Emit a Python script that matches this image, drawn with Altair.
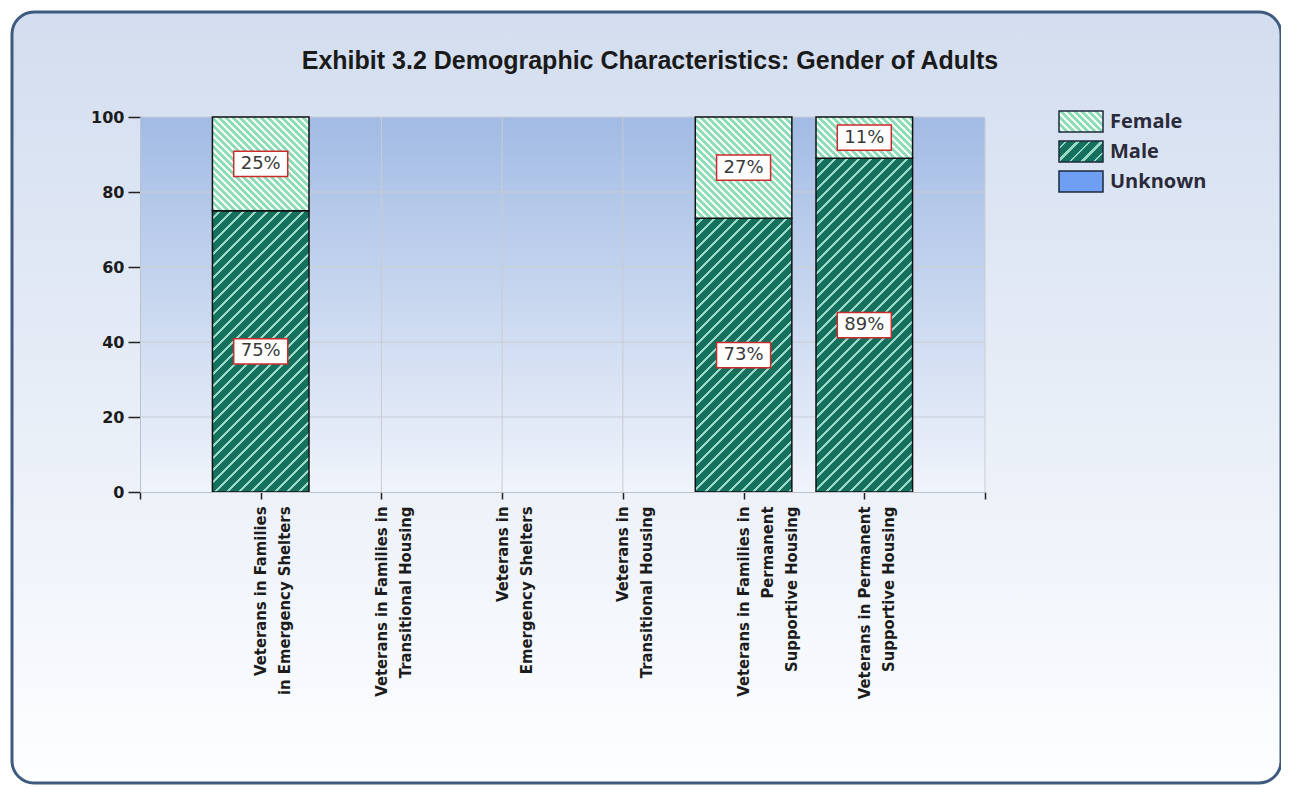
import json
import altair as alt
import pandas as pd

# ---------------- data ----------------
categories = [
    ["Veterans in Families", "in Emergency Shelters"],
    ["Veterans in Families in", "Transitional Housing"],
    ["Veterans in", "Emergency Shelters"],
    ["Veterans in", "Transitional Housing"],
    ["Veterans in Families in", "Permanent", "Supportive Housing"],
    ["Veterans in Permanent", "Supportive Housing"],
]
female = [25, 0, 0, 0, 27, 11]
male = [75, 0, 0, 0, 73, 89]
unknown = [0, 0, 0, 0, 0, 0]
series_names = ["Female", "Male", "Unknown"]
y_ticks = [0, 20, 40, 60, 80, 100]
x_ticks = [0, 1, 2, 3, 4, 5, 6, 7]
title_text = "Exhibit 3.2 Demographic Characteristics: Gender of Adults"

# ---------------- styling ----------------
W, H = 845, 375
XMAX = 7
HALF = 0.4
PXX = W / XMAX
PXY = H / 100.0
LABEL_FONT = "DejaVu Sans Condensed, Liberation Sans Narrow, DejaVu Sans"
MALE_BASE, MALE_LINE = "#15715d", "#9ad8c8"
FEM_BASE, FEM_LINE = "#8fdcb9", "#f4fffa"


def hatch(w, h, base, line, period, lw, direction):
    S = w + h
    a = S / (w * w + h * h)
    if direction == "/":
        x1, y1, x2, y2 = 0, 0, a * w, a * h
    else:
        x1, y1, x2, y2 = 0, 1, a * w, 1 - a * h
    stops = [alt.GradientStop(offset=0, color=base)]
    s = period / 2.0
    while s < S:
        s0 = s / S
        s1 = min(s + lw, S) / S
        for off, col in ((s0, base), (s0, line), (s1, line), (s1, base)):
            stops.append(alt.GradientStop(offset=round(off, 5), color=col))
        s += period
    stops.append(alt.GradientStop(offset=1, color=base))
    return alt.LinearGradient(gradient="linear", stops=stops,
                              x1=round(x1, 5), y1=round(y1, 5),
                              x2=round(x2, 5), y2=round(y2, 5))


def seg_grad(series, w, h):
    if series == "Male":
        return hatch(w, h, MALE_BASE, MALE_LINE, 12, 3, "/")
    if series == "Female":
        return hatch(w, h, FEM_BASE, FEM_LINE, 7, 3, "\\")
    return "#6f9ff2"


# ---------------- table ----------------
rows = []
for i in range(len(categories)):
    m, f, u = male[i], female[i], unknown[i]
    rows.append(dict(pos=i + 1, series="Male", value=m, start=0, end=m))
    rows.append(dict(pos=i + 1, series="Female", value=f, start=m, end=m + f))
    rows.append(dict(pos=i + 1, series="Unknown", value=u, start=m + f, end=m + f + u))
df = pd.DataFrame(rows)

label_arr = [""] + categories + [""]
label_expr = json.dumps(label_arr) + "[datum.value]"

x_scale = alt.Scale(domain=[0, XMAX], nice=False, zero=False)
y_scale = alt.Scale(domain=[0, 100], nice=False)

x_axis = alt.Axis(values=x_ticks, grid=False, title="", domainColor="#bcc2cc",
                  domainWidth=1, tickColor="#222222", tickWidth=1.5, tickSize=7,
                  labelExpr=label_expr, labelAngle=270, labelAlign="right",
                  labelBaseline="middle", labelLineHeight=24, labelPadding=7,
                  labelLimit=400, labelOverlap=False, labelFont=LABEL_FONT,
                  labelFontSize=16.5, labelFontWeight="bold", labelColor="#1c1c1c",
                  zindex=1)
y_axis = alt.Axis(values=y_ticks, grid=False, title="", domainColor="#bcc2cc",
                  domainWidth=1, tickColor="#222222", tickWidth=1.5, tickSize=12,
                  labelPadding=4, labelFont="DejaVu Sans", labelFontSize=16,
                  labelFontWeight="bold", labelColor="#1c1c1c", zindex=1)

one = pd.DataFrame({"a": [0]})

# card background
card = alt.Chart(one).mark_rect(
    fill=alt.LinearGradient(gradient="linear", x1=0, y1=0, x2=0, y2=1,
                            stops=[alt.GradientStop(offset=0, color="#d2ddef"),
                                   alt.GradientStop(offset=1, color="#fdfeff")]),
    stroke="#3e5a7f", strokeWidth=3, cornerRadius=22,
).encode(x=alt.value(-128), x2=alt.value(1141), y=alt.value(-105), y2=alt.value(666))

# plot area background
plotbg = alt.Chart(one).mark_rect(
    fill=alt.LinearGradient(gradient="linear", x1=0, y1=0, x2=0, y2=1,
                            stops=[alt.GradientStop(offset=0, color="#a2bbe4"),
                                   alt.GradientStop(offset=1, color="#f0f4fb")]),
).encode(x=alt.X(datum=0, scale=x_scale, axis=x_axis), x2=alt.X2(datum=XMAX),
         y=alt.Y(datum=0, scale=y_scale, axis=y_axis), y2=alt.Y2(datum=100))

grid_h = alt.Chart(pd.DataFrame({"g": y_ticks[1:]})).mark_rule(
    color="#c9ccd2", strokeWidth=1).encode(y=alt.Y("g:Q", scale=y_scale, axis=y_axis))
grid_v = alt.Chart(pd.DataFrame({"g": x_ticks[1:]})).mark_rule(
    color="#c9ccd2", strokeWidth=1).encode(x=alt.X("g:Q", scale=x_scale, axis=x_axis))

layers = [card, plotbg, grid_h, grid_v]

for r in rows:
    if r["value"] <= 0:
        continue
    w = 2 * HALF * PXX
    h = r["value"] * PXY
    seg = alt.Chart(df).transform_filter(
        (alt.datum.pos == r["pos"]) & (alt.datum.series == r["series"])
    ).transform_calculate(
        x0="datum.pos - %s" % HALF, x1="datum.pos + %s" % HALF
    ).mark_rect(fill=seg_grad(r["series"], w, h), stroke="#111111", strokeWidth=1.5).encode(
        x=alt.X("x0:Q", scale=x_scale, axis=x_axis), x2="x1:Q",
        y=alt.Y("start:Q", scale=y_scale, axis=y_axis), y2="end:Q")
    layers.append(seg)

lab_base = alt.Chart(df).transform_filter(
    (alt.datum.value > 0) & (alt.datum.series != "Unknown")
).transform_calculate(mid="(datum.start + datum.end) / 2", txt="datum.value + '%'")

boxes = lab_base.mark_point(
    shape="M-1,-0.47L1,-0.47L1,0.47L-1,0.47Z", size=54 * 54, filled=True,
    fill="white", stroke="#cc2b2b", strokeWidth=1.5, opacity=1,
).encode(x=alt.X("pos:Q", scale=x_scale, axis=x_axis),
         y=alt.Y("mid:Q", scale=y_scale, axis=y_axis))
texts = lab_base.mark_text(
    font="DejaVu Sans", fontSize=18, color="#3a3a3a",
    baseline="middle", align="center",
).encode(x=alt.X("pos:Q", scale=x_scale, axis=x_axis),
         y=alt.Y("mid:Q", scale=y_scale, axis=y_axis), text="txt:N")
layers += [boxes, texts]

# title
title = alt.Chart(one).mark_text(
    text=title_text, font="Liberation Sans", fontSize=25, fontWeight="bold",
    color="#1a1a1a", align="center", baseline="middle",
).encode(x=alt.value(510), y=alt.value(-56))
layers.append(title)

# legend
for i, name in enumerate(series_names):
    y0 = -6 + 30 * i
    sw = alt.Chart(one).mark_rect(
        fill=seg_grad(name, 44, 21), stroke="#1e2a3a", strokeWidth=1.5,
    ).encode(x=alt.value(919), x2=alt.value(963), y=alt.value(y0), y2=alt.value(y0 + 21))
    tx = alt.Chart(one).mark_text(
        text=name, font="Open Sans", fontSize=20, fontWeight="bold", color="#2a2a3a",
        align="left", baseline="middle",
    ).encode(x=alt.value(970), y=alt.value(y0 + 11))
    layers += [sw, tx]

chart = alt.layer(*layers).properties(
    width=W, height=H,
    padding={"left": 132, "top": 109, "right": 296, "bottom": 294},
    autosize=alt.AutoSizeParams(type="none"),
    background="white",
).configure_view(strokeOpacity=0)

chart.save("out.html", embed_options={"renderer": "svg", "actions": False})
